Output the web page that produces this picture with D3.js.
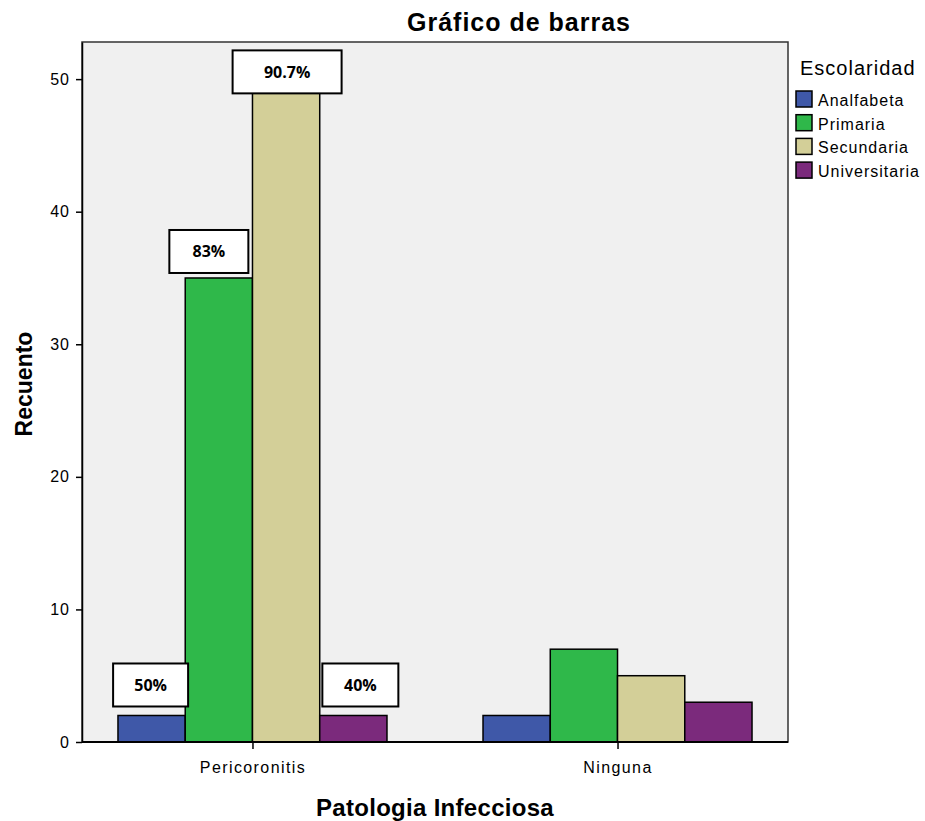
<!DOCTYPE html>
<html>
<head>
<meta charset="utf-8">
<script src="https://cdn.jsdelivr.net/npm/d3@7"></script>
<style>
  html, body { margin: 0; padding: 0; background: #fff; }
  svg { display: block; }
</style>
</head>
<body>
<svg id="chart" width="925" height="821"></svg>
<script>
// Grouped bar chart: count per infectious pathology, split by schooling level
const categories = ["Pericoronitis", "Ninguna"];
const levels = ["Analfabeta", "Primaria", "Secundaria", "Universitaria"];
const analfabeta = [2, 2];
const primaria = [35, 7];
const secundaria = [49, 5];
const universitaria = [2, 3];
const yTicks = [0, 10, 20, 30, 40, 50];

// Percentage callouts on the Pericoronitis group
const pctLevels = ["Analfabeta", "Primaria", "Secundaria", "Universitaria"];
const pctTexts = ["50%", "83%", "90.7%", "40%"];

const colors = ["#3f58a8", "#2fb84a", "#d3cf98", "#7b2a7c"];
const seriesValues = [analfabeta, primaria, secundaria, universitaria];

const FONT = "Liberation Sans, Arial, sans-serif";
const svg = d3.select("#chart");
const plot = { left: 82, right: 788, top: 42, bottom: 742 };

const x0 = d3.scalePoint().domain(categories)
  .range([plot.left, plot.right]).padding(0.467);
const groupWidth = 269;
const x1 = d3.scaleBand().domain(levels).range([-groupWidth / 2, groupWidth / 2]).padding(0);
const y = d3.scaleLinear().domain([0, 52.8]).range([plot.bottom, plot.top]);

// plot background
svg.append("rect")
  .attr("x", plot.left).attr("y", plot.top)
  .attr("width", plot.right - plot.left).attr("height", plot.bottom - plot.top)
  .attr("fill", "#f0f0f0").attr("stroke", "#333").attr("stroke-width", 1.5);

// bars
const rows = [];
levels.forEach((lv, i) => {
  categories.forEach((c, j) => rows.push({ level: lv, cat: c, value: seriesValues[i][j], color: colors[i] }));
});
svg.append("g").selectAll("rect").data(rows).join("rect")
  .attr("x", d => x0(d.cat) + x1(d.level))
  .attr("y", d => y(d.value))
  .attr("width", x1.bandwidth())
  .attr("height", d => y(0) - y(d.value))
  .attr("fill", d => d.color)
  .attr("stroke", "#000").attr("stroke-width", 1.5);

// y axis
const yAxis = d3.axisLeft(y).tickValues(yTicks).tickSize(6).tickSizeOuter(0)
  .tickPadding(6).tickFormat(d3.format("d"));
const gy = svg.append("g").attr("transform", `translate(${plot.left},0)`).call(yAxis);
gy.select(".domain").attr("stroke", "#000").attr("stroke-width", 1.5);
gy.selectAll(".tick line").attr("stroke", "#000").attr("stroke-width", 1.5);
gy.selectAll(".tick text").attr("font-family", FONT)
  .attr("font-size", 16).attr("letter-spacing", 1).attr("fill", "#000");

// x axis
const xAxis = d3.axisBottom(x0).tickSize(7).tickSizeOuter(0).tickPadding(13);
const gx = svg.append("g").attr("transform", `translate(0,${plot.bottom})`).call(xAxis);
gx.select(".domain").attr("stroke", "#000").attr("stroke-width", 2)
  .attr("d", `M${plot.left},0H${plot.right}`);
gx.selectAll(".tick line").attr("stroke", "#000").attr("stroke-width", 1.5);
gx.selectAll(".tick text").attr("font-family", FONT)
  .attr("font-size", 16).attr("letter-spacing", 1.4).attr("fill", "#000");

// callout boxes: width, horizontal shift and gap above the bar
const boxLayout = [
  { w: 75, dx: -1, gap: 9 },
  { w: 79, dx: -10, gap: 5 },
  { w: 109, dx: 1, gap: -1 },
  { w: 76, dx: 7, gap: 9 }
];
const boxH = 43;
const cat0 = categories[0];
pctLevels.forEach((lv, i) => {
  const li = levels.indexOf(lv);
  const v = seriesValues[li][0];
  const cx = x0(cat0) + x1(lv) + x1.bandwidth() / 2 + boxLayout[i].dx;
  const bottom = y(v) - boxLayout[i].gap;
  const g = svg.append("g");
  g.append("rect")
    .attr("x", cx - boxLayout[i].w / 2).attr("y", bottom - boxH)
    .attr("width", boxLayout[i].w).attr("height", boxH)
    .attr("fill", "#fff").attr("stroke", "#000").attr("stroke-width", 2);
  g.append("text")
    .attr("x", cx).attr("y", bottom - boxH / 2 + 6)
    .attr("text-anchor", "middle")
    .attr("font-family", "Open Sans, Noto Sans, sans-serif")
    .attr("font-weight", "bold").attr("font-size", 16)
    .text(pctTexts[i]);
});

// titles
svg.append("text").attr("x", 519).attr("y", 31).attr("text-anchor", "middle")
  .attr("font-family", FONT).attr("font-weight", "bold")
  .attr("font-size", 25).attr("letter-spacing", 1).text("Gráfico de barras");
svg.append("text").attr("x", 435).attr("y", 816).attr("text-anchor", "middle")
  .attr("font-family", FONT).attr("font-weight", "bold")
  .attr("font-size", 24).attr("letter-spacing", 0.3).text("Patologia Infecciosa");
svg.append("text").attr("transform", "translate(32,384) rotate(-90)").attr("text-anchor", "middle")
  .attr("font-family", FONT).attr("font-weight", "bold")
  .attr("font-size", 23).text("Recuento");

// legend
const lg = svg.append("g");
lg.append("text").attr("x", 800).attr("y", 75)
  .attr("font-family", FONT).attr("font-size", 20).attr("letter-spacing", 1)
  .text("Escolaridad");
levels.forEach((lv, i) => {
  const yy = 91 + i * 23.7;
  lg.append("rect").attr("x", 796).attr("y", yy).attr("width", 16).attr("height", 16)
    .attr("fill", colors[i]).attr("stroke", "#000").attr("stroke-width", 1.5);
  lg.append("text").attr("x", 818).attr("y", yy + 15)
    .attr("font-family", FONT).attr("font-size", 16).attr("letter-spacing", 1)
    .text(lv);
});
</script>
</body>
</html>
